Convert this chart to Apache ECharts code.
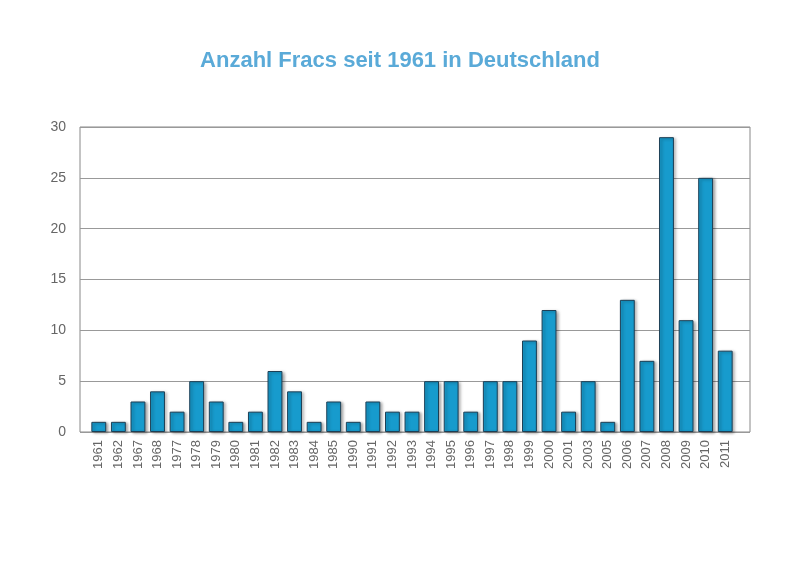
<!DOCTYPE html>
<html>
<head>
<meta charset="utf-8">
<script src="https://cdn.jsdelivr.net/npm/echarts@6/dist/echarts.min.js"></script>
<style>html,body{margin:0;padding:0;background:#fff}#chart{width:800px;height:564px}</style>
</head>
<body>
<div id="chart"></div>
<script>
var years = ['1961','1962','1967','1968','1977','1978','1979','1980','1981','1982','1983','1984','1985','1990','1991','1992','1993','1994','1995','1996','1997','1998','1999','2000','2001','2003','2005','2006','2007','2008','2009','2010','2011'];
var fracs = [1,1,3,4,2,5,3,1,2,6,4,1,3,1,3,2,2,5,5,2,5,5,9,12,2,5,1,13,7,29,11,25,8];

var chart = echarts.init(document.getElementById('chart'));
chart.setOption({
    animation: false,
    title: {
        text: 'Anzahl Fracs seit 1961 in Deutschland',
        left: 'center',
        top: 45,
        textStyle: {color: '#5aaad8', fontSize: 22, fontWeight: 'bold', fontFamily: 'Liberation Sans'}
    },
    grid: [
        // frame and gridlines
        {left: 80, right: 50, top: 127, bottom: 132, show: true, borderColor: '#888', borderWidth: 1},
        // bars
        {left: 89, right: 65, top: 127, bottom: 132}
    ],
    xAxis: [
        {type: 'value', gridIndex: 0, show: false, min: 0, max: 1},
        {
            type: 'category',
            gridIndex: 1,
            data: years,
            axisTick: {show: false},
            axisLine: {show: false},
            axisLabel: {rotate: 90, interval: 0, color: '#666', fontSize: 13, fontFamily: 'Liberation Sans'}
        }
    ],
    yAxis: [
        {
            type: 'value',
            gridIndex: 0,
            min: 0, max: 30, interval: 5,
            axisLine: {show: false},
            axisTick: {show: false},
            axisLabel: {color: '#666', fontSize: 14, margin: 14, fontFamily: 'Liberation Sans'},
            splitLine: {lineStyle: {color: '#999'}}
        },
        {type: 'value', gridIndex: 1, min: 0, max: 30, interval: 5, show: false, splitLine: {show: false}}
    ],
    series: [{
        type: 'bar',
        xAxisIndex: 1,
        yAxisIndex: 1,
        data: fracs,
        barWidth: '76%',
        itemStyle: {
            color: '#179bcd',
            borderColor: '#1d3f55',
            borderWidth: 1,
            shadowColor: 'rgba(0,0,0,0.35)',
            shadowBlur: 3,
            shadowOffsetX: 2,
            shadowOffsetY: 1
        }
    }]
});
</script>
</body>
</html>
